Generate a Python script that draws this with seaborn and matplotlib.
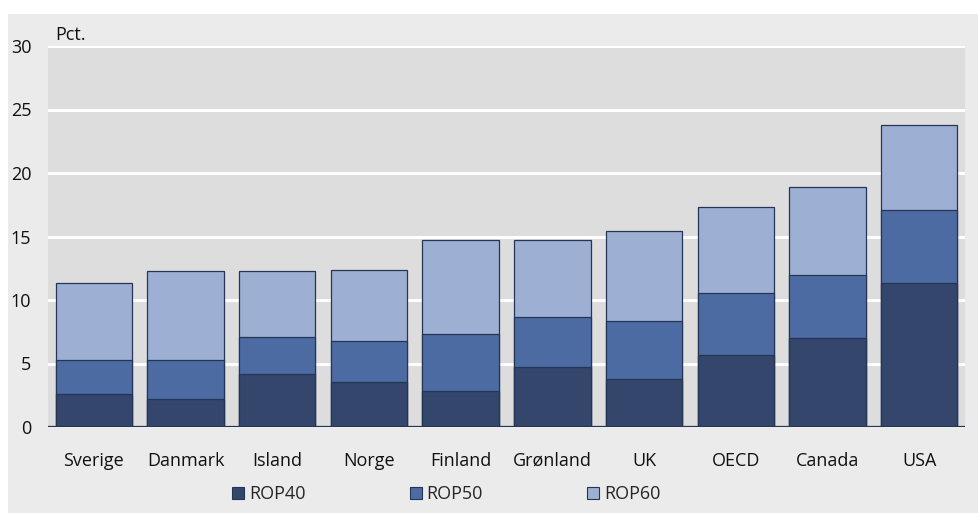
import matplotlib
matplotlib.use("Agg")
import matplotlib.pyplot as plt
import seaborn as sns
import numpy as np
import pandas as pd
from matplotlib.patches import Rectangle, Patch

countries = ["Sverige", "Danmark", "Island", "Norge", "Finland", "Grønland", "UK", "OECD", "Canada", "USA"]
rop40 = [2.6, 2.2, 4.2, 3.55, 2.85, 4.75, 3.75, 5.65, 7.0, 11.35]
rop50 = [2.7, 3.1, 2.9, 3.25, 4.45, 3.95, 4.6, 4.9, 4.95, 5.7]
rop60 = [6.05, 7.0, 5.2, 5.6, 7.45, 6.05, 7.1, 6.8, 6.95, 6.75]
series_names = ["ROP40", "ROP50", "ROP60"]
yticks = [0, 5, 10, 15, 20, 25, 30]

colors = ["#34466b", "#4d6ba3", "#9db0d4"]
edge = "#243555"

sns.set_style("white")
plt.rcParams["font.family"] = ["Open Sans", "DejaVu Sans"]
FS = 13

df = pd.DataFrame({"land": countries, "ROP40": rop40, "ROP50": rop50, "ROP60": rop60})
df["c40"] = df["ROP40"]
df["c50"] = df["ROP40"] + df["ROP50"]
df["c60"] = df["c50"] + df["ROP60"]

W, H = 979, 513
fig = plt.figure(figsize=(W / 100, H / 100), dpi=100)
fig.patch.set_facecolor("white")
fig.add_artist(Rectangle((8 / W, 0), 1 - 8 / W, (H - 14) / H, transform=fig.transFigure,
                         facecolor="#ebebeb", edgecolor="none", zorder=0))

ax = fig.add_axes([48 / W, (H - 427) / H, 917 / W, (427 - 46) / H])
ax.set_facecolor("#dddddd")

for col, c in zip(["c60", "c50", "c40"], colors[::-1]):
    sns.barplot(data=df, x="land", y=col, color=c, ax=ax, width=0.833,
                edgecolor=edge, linewidth=0.9, saturation=1, zorder=3)

ax.set_xlim(-0.5, 9.5)
ax.set_ylim(0, 30)
ax.set_yticks(yticks)
for v in yticks[1:]:
    ax.axhline(v, color="white", lw=2.2, zorder=1)
ax.axhline(0, color="#243555", lw=1.6, zorder=4)
for s in ax.spines.values():
    s.set_visible(False)
ax.tick_params(axis="both", length=0, labelsize=FS, colors="#111111")
ax.tick_params(axis="x", pad=18)
ax.tick_params(axis="y", pad=12)
ax.set_xlabel("")
ax.set_ylabel("")
ax.text(0.0075, 1.004, "Pct.", transform=ax.transAxes, fontsize=FS, ha="left", va="bottom", color="#111111")

fpx = FS * 100 / 72
handles = [Patch(facecolor=c, edgecolor=edge, linewidth=0.8) for c in colors]
fig.legend(handles, series_names, loc="center left", bbox_to_anchor=(232 / W, (H - 494) / H),
           ncol=3, frameon=False, fontsize=FS, handlelength=12 / fpx, handleheight=12 / fpx,
           handletextpad=5 / fpx, columnspacing=104 / fpx, borderaxespad=0, borderpad=0)

fig.savefig("out.png", dpi=100)
